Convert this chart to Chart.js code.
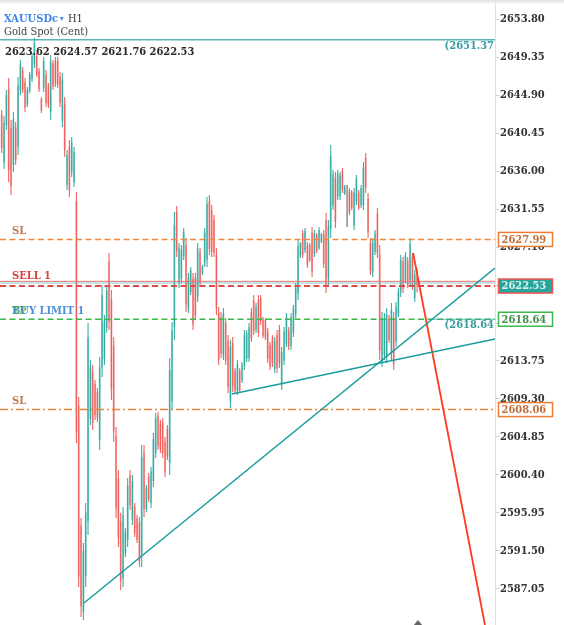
<!DOCTYPE html>
<html><head><meta charset="utf-8">
<script src="https://cdn.jsdelivr.net/npm/chart.js@4.4.0/dist/chart.umd.min.js"></script>
<style>html,body{margin:0;padding:0;background:#fff;overflow:hidden}canvas{display:block}</style>
</head><body>
<canvas id="c" width="564" height="625"></canvas>
<script>
const opens = [
2642.6,2637.0,2641.4,2645.6,2641.0,2636.7,2641.1,2638.9,2645.4,2647.8,
2646.4,2643.8,2645.4,2646.8,2648.5,2649.5,2647.7,2644.4,2645.7,2647.3,
2646.0,2642.9,2648.6,2648.9,2648.9,2647.1,2641.9,2643.8,2634.4,2638.8,
2635.9,2634.7,2632.5,2608.5,2594.5,2584.4,2588.5,2595.0,2607.0,2612.5,
2611.0,2610.1,2604.5,2613.0,2614.0,2617.6,2625.4,2621.0,2615.5,2605.0,
2600.0,2595.0,2588.3,2591.2,2592.8,2600.4,2595.2,2596.7,2595.3,2594.8,
2591.0,2603.0,2596.4,2600.2,2597.1,2599.7,2603.0,2607.3,2606.4,2606.6,
2604.3,2605.8,2601.8,2609.0,2617.7,2631.2,2622.9,2623.4,2626.0,2627.3,
2619.9,2621.8,2623.4,2623.5,2621.3,2626.5,2624.0,2625.2,2625.6,2632.5,
2631.4,2630.3,2626.2,2619.4,2618.9,2614.5,2618.2,2616.1,2609.1,2615.9,
2612.6,2610.2,2612.6,2611.5,2613.2,2614.0,2614.1,2619.5,2620.9,2617.4,
2620.9,2621.1,2618.6,2618.5,2617.2,2615.6,2616.4,2612.8,2616.8,2617.4,
2610.9,2613.8,2615.8,2617.4,2615.5,2617.0,2619.2,2621.6,2626.0,2628.7,
2626.7,2627.3,2627.3,2628.8,2626.3,2628.5,2627.0,2627.7,2628.6,2630.2,
2623.4,2629.2,2632.0,2635.2,2633.0,2633.0,2636.0,2633.3,2632.0,2633.6,
2633.5,2629.6,2632.4,2633.5,2632.0,2632.0,2637.5,2632.8,2627.6,2624.1,
2626.5,2631.0,2626.3,2613.7,2614.5,2614.2,2618.8,2614.6,2618.8,2616.0,
2619.3,2621.8,2625.4,2623.3,2625.5,2623.2,2625.9,2621.1,2623.62];
const highs = [
2643.14,2642.44,2645.49,2646.89,2641.97,2642.91,2641.74,2647.01,2649.00,2648.18,
2646.89,2645.84,2647.59,2649.82,2651.60,2649.82,2648.06,2644.67,2649.35,2647.83,
2646.31,2649.58,2649.00,2649.35,2649.35,2647.59,2647.48,2644.67,2638.46,2639.63,
2639.98,2638.81,2633.54,2609.53,2595.36,2592.44,2597.12,2618.20,2613.87,2613.28,
2611.52,2610.59,2614.22,2622.65,2619.14,2622.65,2626.40,2622.06,2616.56,2606.02,
2600.98,2595.95,2596.65,2594.19,2600.05,2600.98,2600.40,2597.12,2595.71,2595.48,
2603.91,2603.91,2599.23,2600.63,2601.34,2605.32,2607.66,2607.78,2606.84,2607.07,
2604.85,2606.25,2614.10,2618.32,2631.20,2631.90,2627.57,2627.33,2629.32,2628.15,
2624.05,2624.76,2624.05,2624.05,2627.57,2626.98,2624.99,2629.32,2632.96,2633.19,
2632.02,2630.85,2626.98,2620.07,2619.49,2619.96,2618.78,2616.79,2616.21,2616.56,
2612.93,2613.87,2612.93,2613.63,2617.38,2617.38,2618.20,2619.96,2621.48,2620.54,
2621.48,2621.48,2618.90,2618.78,2617.61,2615.97,2616.79,2616.56,2617.38,2617.97,
2615.39,2617.73,2619.37,2617.73,2619.37,2620.31,2622.88,2627.92,2627.69,2629.09,
2629.32,2627.69,2627.57,2629.44,2629.09,2628.74,2629.44,2628.74,2629.09,2631.08,
2630.26,2639.04,2636.12,2635.88,2636.12,2635.88,2636.35,2634.36,2634.36,2634.01,
2633.77,2634.01,2635.53,2633.77,2634.36,2637.05,2638.11,2633.42,2628.15,2628.15,
2629.09,2631.67,2627.33,2619.49,2619.37,2619.96,2619.14,2620.54,2619.49,2620.66,
2622.30,2626.16,2625.93,2626.51,2625.93,2628.15,2626.40,2624.41,2624.57];
const lows = [
2638.11,2636.23,2640.80,2634.71,2633.19,2635.88,2636.70,2637.87,2644.90,2645.13,
2642.91,2643.49,2645.13,2646.42,2648.06,2647.01,2645.25,2642.79,2645.25,2643.49,
2643.38,2641.97,2645.49,2645.84,2645.72,2643.49,2641.15,2637.64,2633.77,2632.96,
2635.30,2634.13,2604.15,2587.28,2583.77,2583.42,2587.28,2593.37,2606.25,2605.67,
2606.84,2606.61,2603.33,2611.88,2613.28,2617.03,2617.38,2609.18,2604.26,2595.36,
2591.97,2586.93,2587.28,2590.80,2591.97,2596.30,2594.54,2593.14,2592.44,2589.62,
2589.62,2595.48,2596.07,2597.24,2596.53,2598.99,2602.39,2603.33,2602.98,2602.39,
2600.16,2602.16,2600.40,2608.01,2616.21,2625.93,2622.30,2622.88,2625.58,2619.49,
2619.37,2621.48,2617.38,2618.55,2620.66,2622.42,2623.82,2624.76,2624.76,2626.16,
2625.93,2625.93,2619.14,2613.28,2614.10,2613.87,2613.28,2610.00,2608.25,2610.12,
2610.00,2609.77,2610.00,2611.17,2612.70,2613.63,2613.63,2615.97,2616.79,2617.03,
2616.56,2617.97,2616.44,2616.21,2613.51,2612.70,2613.05,2612.34,2612.34,2612.93,
2610.35,2613.28,2615.39,2615.04,2615.04,2616.56,2618.78,2620.89,2625.81,2625.81,
2626.40,2624.64,2625.34,2623.59,2625.93,2626.40,2626.75,2627.57,2624.64,2621.71,
2622.65,2628.15,2631.43,2629.32,2632.60,2632.60,2633.42,2633.19,2629.44,2630.85,
2631.43,2629.09,2632.02,2631.43,2631.67,2631.43,2633.42,2628.15,2623.82,2623.59,
2626.16,2625.81,2613.87,2613.05,2613.87,2613.51,2615.86,2613.87,2612.70,2615.39,
2618.90,2621.24,2621.71,2622.88,2622.30,2622.65,2622.06,2620.66,2621.76];
const closes = [
2638.7,2641.7,2644.9,2636.1,2634.2,2642.1,2637.3,2646.0,2648.5,2645.5,
2643.4,2645.5,2647.3,2649.4,2651.0,2647.3,2645.6,2643.1,2648.9,2644.0,
2643.7,2648.8,2645.9,2646.2,2646.1,2644.0,2646.7,2638.5,2637.9,2633.8,
2639.4,2638.2,2605.5,2588.5,2585.0,2591.5,2596.0,2616.5,2613.0,2606.5,
2607.4,2607.1,2613.0,2621.5,2618.4,2622.0,2618.3,2610.5,2605.5,2596.5,
2593.0,2588.0,2595.7,2593.8,2599.2,2596.9,2599.7,2593.6,2592.8,2590.3,
2602.5,2596.4,2598.9,2597.6,2600.8,2604.6,2607.1,2603.8,2603.4,2602.9,
2600.7,2602.6,2612.7,2617.3,2629.7,2626.6,2627.0,2626.8,2628.9,2620.4,
2623.5,2624.4,2618.0,2619.1,2626.9,2622.9,2624.8,2628.8,2632.1,2626.9,
2626.5,2626.4,2619.9,2613.9,2614.6,2619.3,2613.8,2610.7,2615.4,2610.8,
2610.3,2613.4,2610.3,2613.3,2616.8,2617.0,2617.7,2616.4,2617.3,2620.1,
2617.1,2618.4,2616.7,2616.5,2614.0,2613.1,2613.5,2616.1,2612.9,2613.5,
2614.8,2617.2,2618.9,2615.4,2618.9,2619.9,2622.4,2627.2,2627.5,2626.2,
2629.0,2625.0,2625.6,2624.2,2628.7,2626.7,2629.1,2628.6,2625.1,2622.6,
2629.5,2637.8,2635.6,2630.0,2635.7,2635.5,2633.8,2634.2,2632.0,2631.2,
2631.7,2633.5,2635.1,2631.7,2634.0,2636.4,2634.0,2628.8,2624.3,2627.6,
2628.7,2626.4,2615.0,2618.8,2618.7,2619.2,2616.2,2619.8,2613.4,2620.1,
2621.9,2625.6,2622.2,2626.1,2622.7,2627.5,2622.5,2623.9,2622.53];

const yTicks = [2653.80,2649.35,2644.90,2640.45,2636.00,2631.55,2627.10,2622.65,2618.20,2613.75,2609.30,2604.85,2600.40,2595.95,2591.50,2587.05];
const highLine = 2651.37;
const slUpper = 2627.99;
const sellLine = 2623.08;
const askLine = 2622.88;
const bidPrice = 2622.53;
const buyLimit = 2618.64;
const slLower = 2608.06;
const lastOHLC = ['2623.62','2624.57','2621.76','2622.53'];
const trendA = [[35.27,2585.41],[211.4,2624.64]];
const trendB = [[98.7,2609.88],[211.4,2616.33]];
const redArrow = [[176.3,2626.40],[207.1,2582.83]];
const buyTealStart = 183.5;

const X_MIN = -0.73, X_MAX = 211.4;
const Y_MIN = 2582.83, Y_MAX = 2656.03;
const FONT = '"DejaVu Serif Condensed", "DejaVu Serif", serif';

const BULL = '#26a69a', BULL_L = '#93d3cd', BEAR = '#ef5350', BEAR_L = '#f7aeac', DOJI = '#555555';
function dirColor(i, light){
  if (closes[i] > opens[i]) return light ? BULL_L : BULL;
  if (closes[i] < opens[i]) return light ? BEAR_L : BEAR;
  return DOJI;
}
const hline = (v, x0) => [{x: x0 === undefined ? X_MIN : x0, y: v}, {x: X_MAX, y: v}];
const seg = a => a.map(p => ({x: p[0], y: p[1]}));
function lineDs(data, color, width, dash, order){
  return {type:'line', data, borderColor:color, borderWidth:width, borderDash:dash||[], pointRadius:0, tension:0, fill:false, order: order||0};
}

const overlay = {
  id:'overlay',
  afterDraw(chart){
    const {ctx} = chart; const y = chart.scales.y;
    ctx.save();
    const g = ctx.createLinearGradient(0,0,0,5);
    g.addColorStop(0,'#dedede'); g.addColorStop(1,'rgba(240,240,240,0)');
    ctx.fillStyle = g; ctx.fillRect(0,0,564,5);
    ctx.textBaseline = 'middle'; ctx.textAlign='left';
    // header
    ctx.font = 'bold 11px ' + FONT; ctx.fillStyle = '#3d85e6';
    ctx.fillText('XAUUSDc', 4, 19);
    const w = ctx.measureText('XAUUSDc').width;
    ctx.font = '8px ' + FONT; ctx.fillText('\u25BE', 4 + w + 2, 19);
    ctx.font = '11px ' + FONT; ctx.fillStyle = '#333'; ctx.fillText('H1', 4 + w + 10, 19);
    ctx.fillStyle = '#444'; ctx.fillText('Gold Spot (Cent)', 4, 32);
    ctx.font = 'bold 11px ' + FONT; ctx.fillStyle = '#2a2a2a'; ctx.fillText(lastOHLC.join(' '), 5, 52);
    // level labels
    ctx.font = 'bold 11px ' + FONT;
    ctx.fillStyle = '#c47a4e'; ctx.fillText('SL', 12, y.getPixelForValue(slUpper) - 8);
    ctx.fillStyle = '#d9443f'; ctx.fillText('SELL 1', 12, y.getPixelForValue(sellLine) - 5);
    ctx.fillStyle = '#4b8fdc'; ctx.fillText('BUY LIMIT 1', 12, y.getPixelForValue(buyLimit) - 8);
    ctx.fillStyle = 'rgba(60,160,60,0.7)'; ctx.fillText('TP', 12, y.getPixelForValue(buyLimit) - 8);
    ctx.fillStyle = '#c47a4e'; ctx.fillText('SL', 12, y.getPixelForValue(slLower) - 8);
    // right-side bracket values
    ctx.textAlign = 'right'; ctx.fillStyle = '#3a9ca0';
    ctx.fillText('(' + highLine.toFixed(2), 494, y.getPixelForValue(highLine) + 6);
    ctx.fillText('(' + buyLimit.toFixed(2), 494, y.getPixelForValue(buyLimit) + 6);
    // price boxes on axis
    ctx.textAlign = 'left';
    function box(v, fill, stroke, txt){
      const cy = y.getPixelForValue(v);
      ctx.fillStyle = fill; ctx.fillRect(498.5, cy - 7, 54, 14);
      ctx.lineWidth = 1.5; ctx.strokeStyle = stroke; ctx.strokeRect(498.5, cy - 7, 54, 14);
      ctx.fillStyle = txt; ctx.fillText(v.toFixed(2), 501.5, cy + 0.5);
    }
    box(slUpper, '#ffffff', '#ec7d33', '#c0703d');
    box(bidPrice, '#26a69a', '#ef5350', '#d9f1ee');
    box(buyLimit, '#ffffff', '#3dba4c', '#3f8f4a');
    box(slLower, '#ffffff', '#ec7d33', '#c0703d');
    ctx.fillStyle = '#666';
    ctx.beginPath(); ctx.moveTo(418, 620); ctx.lineTo(413, 626); ctx.lineTo(423, 626); ctx.closePath(); ctx.fill();
    ctx.restore();
  }
};

new Chart(document.getElementById('c'), {
  type:'bar',
  data:{
    datasets:[
      {label:'body', data: opens.map((o,i)=>({x:i, y:[o, closes[i]]})), backgroundColor: c => dirColor(c.dataIndex, true),
       grouped:false, barThickness:2, maxBarThickness:2, borderWidth:0, inflateAmount:0, order:3},
      {label:'wick', data: highs.map((h,i)=>({x:i, y:[lows[i], h]})), backgroundColor: c => dirColor(c.dataIndex, false),
       grouped:false, barThickness:1, maxBarThickness:1, borderWidth:0, inflateAmount:0, order:2},
      lineDs(hline(highLine), 'rgba(60,170,170,0.85)', 1.5, [], 1),
      lineDs(hline(slUpper), '#f0883e', 1.5, [6,3.5], 1),
      lineDs(hline(sellLine), '#f07070', 1, [], 1),
      lineDs(hline(askLine), 'rgba(90,180,180,0.7)', 1, [], 1),
      lineDs(hline(bidPrice), '#e04a4a', 2, [6,3.5], 1),
      lineDs(hline(buyLimit), '#3cba48', 1.5, [6,3.5], 1),
      lineDs(hline(buyLimit, buyTealStart), 'rgba(60,165,160,0.8)', 1.2, [], 0),
      lineDs(hline(slLower), '#ee8236', 1.5, [8,3,2,3], 1),
      lineDs(seg(trendA), '#1b9c9c', 1.5, [], 0),
      lineDs(seg(trendB), '#1b9c9c', 1.5, [], 0),
      lineDs(seg(redArrow), '#ff3b1e', 1.8, [], 0)
    ]
  },
  options:{
    responsive:false, animation:false, devicePixelRatio:1,
    layout:{padding:0},
    plugins:{legend:{display:false}, tooltip:{enabled:false}},
    scales:{
      x:{type:'linear', min:X_MIN, max:X_MAX, display:false, offset:false},
      y:{type:'linear', position:'right', min:Y_MIN, max:Y_MAX,
        afterBuildTicks: s => { s.ticks = yTicks.map(v => ({value:v})); },
        afterFit: s => { s.width = 69; s.paddingTop = 0; s.paddingBottom = 0; },
        grid:{drawOnChartArea:false, drawTicks:true, tickLength:4, color:'#cfcfcf'},
        border:{display:true, color:'#e0e0e0', width:1},
        ticks:{color:'#333', padding:1, autoSkip:false, font:{family:'"DejaVu Serif Condensed", "DejaVu Serif", serif', size:11, weight:'bold'}, callback: v => Number(v).toFixed(2)}
      }
    }
  },
  plugins:[overlay]
});
</script>
</body></html>
